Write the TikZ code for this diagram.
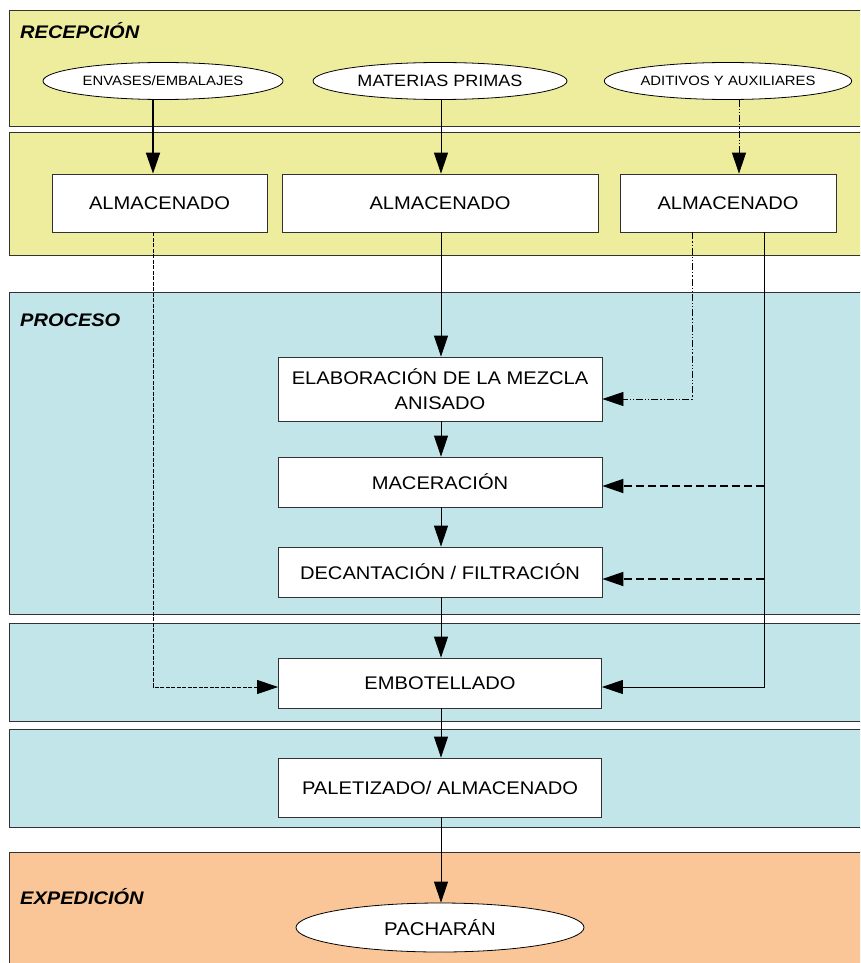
\documentclass[tikz,border=0pt]{standalone}
\usepackage{fontspec}
\setmainfont{Liberation Sans}[FakeStretch=1.1]
\usetikzlibrary{shapes.geometric,arrows.meta,calc}
\definecolor{bandY}{RGB}{238,237,158}
\definecolor{bandB}{RGB}{193,229,233}
\definecolor{bandO}{RGB}{250,198,152}
\definecolor{edge}{RGB}{50,50,50}
\tikzset{
  band/.style={draw=edge, line width=0.9pt},
  proc/.style={draw=edge, fill=white, line width=0.8pt, rectangle, inner sep=0pt, align=center, font=\fontsize{18.3}{25}\selectfont},
  oval/.style={draw=black, fill=white, line width=0.8pt, ellipse, inner sep=0pt, font=\fontsize{18.5}{20}\selectfont},
  midoval/.style={oval, font=\fontsize{16.4}{18}\selectfont},
  smalloval/.style={oval, font=\fontsize{13.5}{16}\selectfont},
  lbl/.style={anchor=west, inner sep=0pt, font=\fontsize{18.2}{20}\selectfont\bfseries\itshape},
  tip/.style={-{Triangle[length=21pt,width=14pt]}},
  flow/.style={tip, line width=0.8pt},
  heavy/.style={tip, line width=1.8pt},
  ddot/.style={tip, line width=0.8pt, dash pattern=on 7pt off 2pt on 1.2pt off 2pt on 1.2pt off 2pt},
  thindash/.style={tip, line width=0.8pt, dash pattern=on 4pt off 1.5pt},
  thickdash/.style={tip, line width=1.8pt, dash pattern=on 8pt off 4pt},
}
\begin{document}
\begin{tikzpicture}[x=1pt,y=-1pt]
\useasboundingbox (0,0) rectangle (860,963);
\clip (0,0) rectangle (860,963);
% bands
\fill[white] (0,0) rectangle (860,963);
\draw[band, fill=bandY] (9,10) rectangle (880,126);
\draw[band, fill=bandY] (9,132) rectangle (880,255);
\draw[band, fill=bandB] (9,292) rectangle (880,614);
\draw[band, fill=bandB] (9,623) rectangle (880,721);
\draw[band, fill=bandB] (9,729) rectangle (880,827);
\draw[band, fill=bandO] (9,852) rectangle (880,980);
% labels
\node[lbl] (lrec) at (20,31) {RECEPCIÓN};
\node[lbl] (lpro) at (20,320) {PROCESO};
\node[lbl] (lexp) at (20,897) {EXPEDICIÓN};
% ellipses
\node[smalloval, minimum width=240pt, minimum height=37pt] (e1) at (163,81) {ENVASES/EMBALAJES};
\node[midoval, minimum width=254pt, minimum height=37pt] (e2) at (440,81) {MATERIAS PRIMAS};
\node[smalloval, minimum width=217pt, minimum height=37pt] (e3) at (728,81) {ADITIVOS Y AUXILIARES};
% storage boxes
\node[proc, minimum width=215pt, minimum height=58pt] (b1) at (159.5,203) {ALMACENADO};
\node[proc, minimum width=316pt, minimum height=58pt] (b2) at (440,203) {ALMACENADO};
\node[proc, minimum width=216pt, minimum height=58pt] (b3) at (728,203) {ALMACENADO};
% process boxes
\node[proc, minimum width=324pt, minimum height=64pt] (elab) at (440,389) {ELABORACIÓN DE LA MEZCLA\\ANISADO};
\node[proc, minimum width=324pt, minimum height=50pt] (mac) at (440,482) {MACERACIÓN};
\node[proc, minimum width=324pt, minimum height=50pt] (dec) at (440,572) {DECANTACIÓN / FILTRACIÓN};
\node[proc, minimum width=323pt, minimum height=50pt] (emb) at (440,683) {EMBOTELLADO};
\node[proc, minimum width=323pt, minimum height=59pt] (pal) at (440,787.5) {PALETIZADO/ ALMACENADO};
\node[oval, minimum width=288pt, minimum height=49pt] (pach) at (440,927.5) {PACHARÁN};
% guide coordinates
\coordinate (c1) at (153,0);
\coordinate (c2) at (441,0);
\coordinate (c3) at (739,0);
\coordinate (c4) at (692,0);
\coordinate (c5) at (764,0);
\coordinate (yE) at (0,399);
\coordinate (yM) at (0,486);
\coordinate (yD) at (0,579);
\coordinate (yB) at (0,687);
% connectors
\draw[heavy] (e1.south -| c1) -- (b1.north -| c1);
\draw[flow] (e2.south -| c2) -- (b2.north -| c2);
\draw[ddot] (e3.south -| c3) -- (b3.north -| c3);
\draw[flow] (b2.south -| c2) -- (elab.north -| c2);
\draw[ddot] (b3.south -| c4) |- (elab.east |- yE);
\draw[flow] (elab.south -| c2) -- (mac.north -| c2);
\draw[flow] (mac.south -| c2) -- (dec.north -| c2);
\draw[flow] (dec.south -| c2) -- (emb.north -| c2);
\draw[flow] (emb.south -| c2) -- (pal.north -| c2);
\draw[flow] (pal.south -| c2) -- (pach.north -| c2);
\draw[thindash] (b1.south -| c1) |- (emb.west |- yB);
\draw[flow] (b3.south -| c5) |- (emb.east |- yB);
\draw[thickdash] (c5 |- yM) -- (mac.east |- yM);
\draw[thickdash] (c5 |- yD) -- (dec.east |- yD);
\end{tikzpicture}
\end{document}
